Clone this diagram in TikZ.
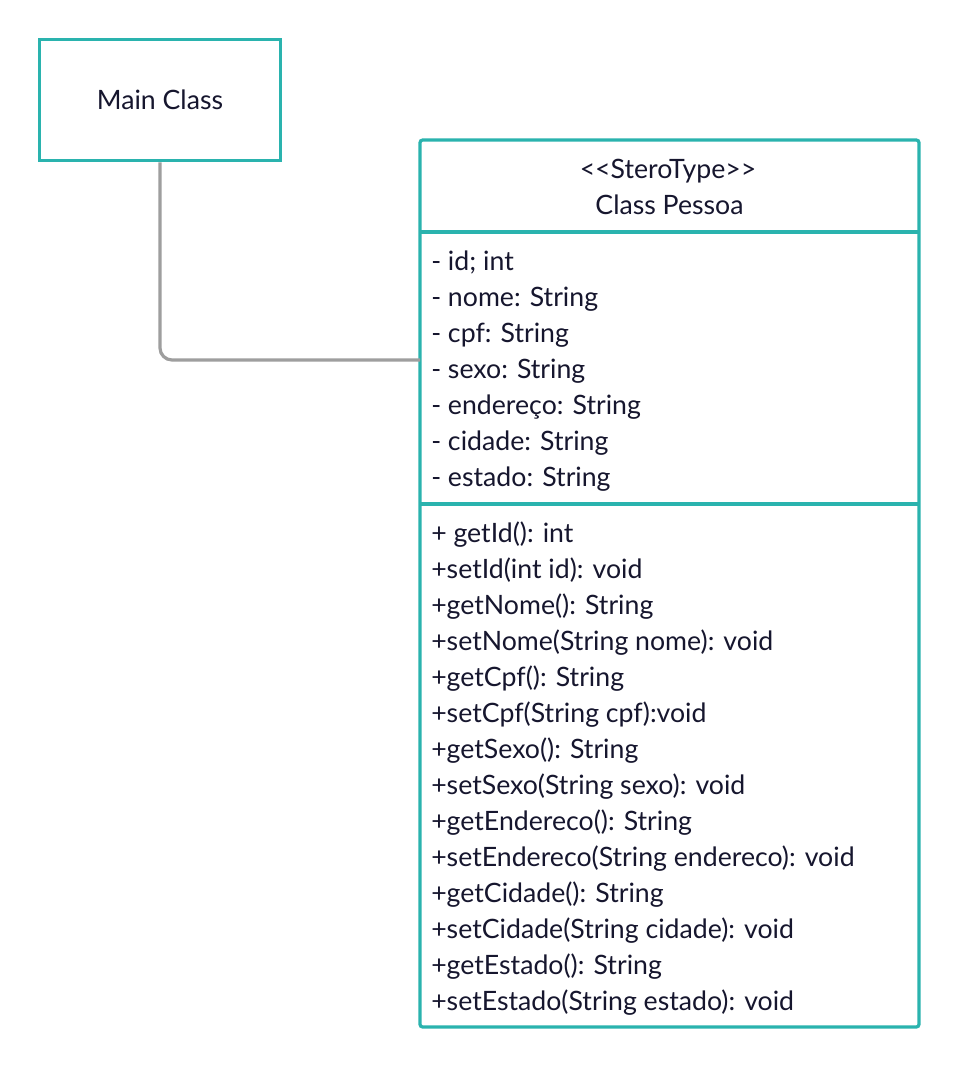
\documentclass[tikz,border=0pt]{standalone}
\usepackage{fontspec}
\setmainfont{Lato}
\definecolor{teal1}{HTML}{2AB3AE}
\definecolor{conn}{HTML}{9E9E9E}
\definecolor{txt}{HTML}{16162E}
\begin{document}
\begin{tikzpicture}[x=0.75pt,y=-0.75pt,
  box/.style={draw=teal1,line width=2.4pt},
  lbl/.style={anchor=base west,inner sep=0pt,text=txt,font=\fontsize{20}{24}\selectfont},
  clbl/.style={anchor=base,inner sep=0pt,text=txt,font=\fontsize{20}{24}\selectfont},
  link/.style={draw=conn,line width=2.4pt,rounded corners=9pt}]
\useasboundingbox[fill=white] (0,0) rectangle (960,1068);
% Main class
\node[box,minimum width=181pt,minimum height=91pt,inner sep=0pt] (main) at (160,100) {};
\node[clbl] (maint) at (160,109) {Main Class};
% Class Pessoa
\draw[box,rounded corners=2pt] (420,140) rectangle (919,1027);
\coordinate (pl) at (420,360);
\draw[box] (420,232) -- (919,232);
\draw[box] (420,504) -- (919,504);
\node[clbl] (st) at (668,178) {<{}<SteroType>{}>};
\node[clbl] (cn) at (669.5,214) {Class Pessoa};
\foreach \t [count=\i from 0] in {{- id; int},{- nome: String},{- cpf: String},{- sexo: String},{- endereço: String},{- cidade: String},{- estado: String}}
  \node[lbl] (a\i) at (431,270+36*\i) {\t};
\foreach \t [count=\i from 0] in {{+ getId(): int},{+setId(int id): void},{+getNome(): String},{+setNome(String nome): void},{+getCpf(): String},{+setCpf(String cpf):void},{+getSexo(): String},{+setSexo(String sexo): void},{+getEndereco(): String},{+setEndereco(String endereco): void},{+getCidade(): String},{+setCidade(String cidade): void},{+getEstado(): String},{+setEstado(String estado): void}}
  \node[lbl] (m\i) at (431,542+36*\i) {\t};
% connector
\draw[link] (main.south) |- (pl);
\end{tikzpicture}
\end{document}
